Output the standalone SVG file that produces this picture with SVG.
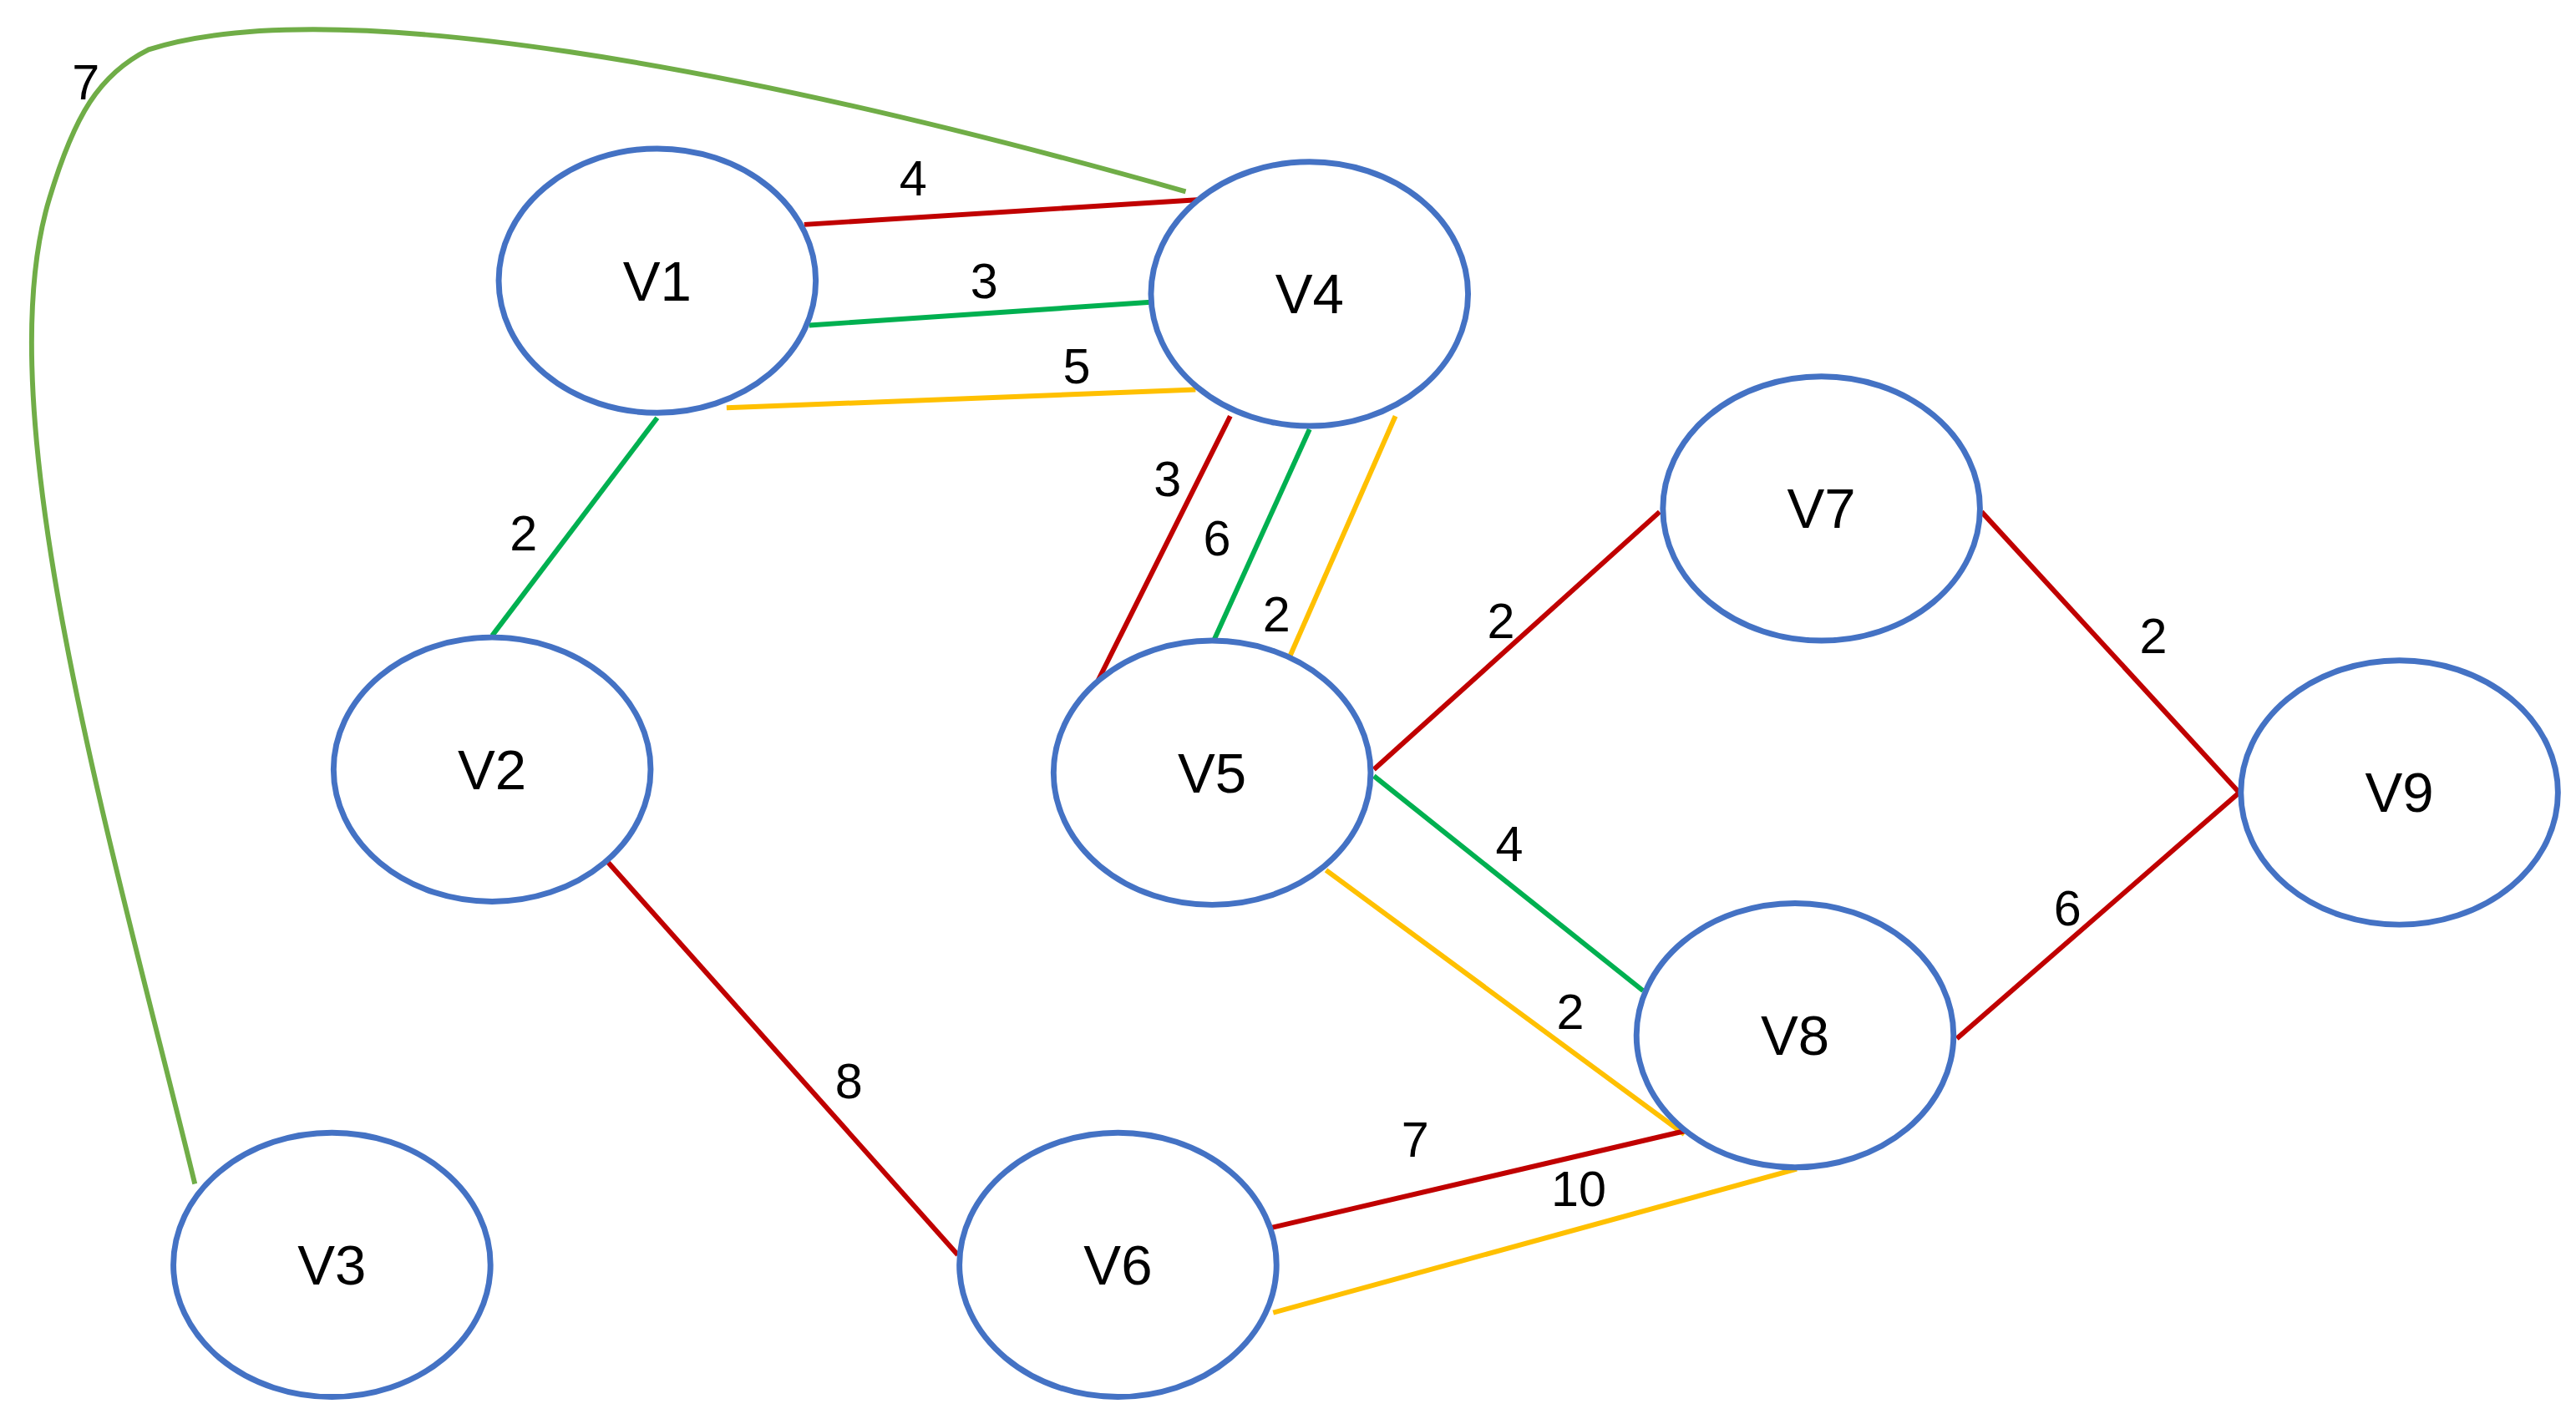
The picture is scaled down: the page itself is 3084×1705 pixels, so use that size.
<svg xmlns="http://www.w3.org/2000/svg" width="3084" height="1705" viewBox="0 0 3084 1705">
<style>
.n{fill:#fff;stroke:#4472C4;stroke-width:3.5}
.t{font-family:"Liberation Sans",Arial,sans-serif;font-size:34px;text-anchor:middle;dominant-baseline:central;fill:#000}
.l{font-family:"Liberation Sans",Arial,sans-serif;font-size:30px;text-anchor:middle;dominant-baseline:central;fill:#000}
.r{stroke:#C00000;stroke-width:3;fill:none}
.g{stroke:#00B050;stroke-width:3;fill:none}
.y{stroke:#FFC000;stroke-width:3;fill:none}
.c{stroke:#70AD47;stroke-width:3;fill:none}
</style>
<rect width="3084" height="1705" fill="#fff"/>
<g transform="scale(1.977)">
<g id="connectors">
<path class="c" d="M118,717 C70,520 -10,250 30,120 C45,70 60,45 90,30 C200,-5 450,40 718,116"/>
<line class="r" x1="487" y1="136" x2="725" y2="121"/>
<line class="g" x1="490" y1="197" x2="697" y2="183"/>
<line class="y" x1="440" y1="247" x2="724" y2="236"/>
<line class="g" x1="398" y1="253" x2="298" y2="385"/>
<line class="r" x1="745" y1="252" x2="665" y2="412"/>
<line class="g" x1="793" y1="260" x2="735" y2="388"/>
<line class="y" x1="845" y1="252" x2="780" y2="400"/>
<line class="r" x1="832" y1="466" x2="1005" y2="310"/>
<line class="r" x1="1200" y1="310" x2="1356" y2="480"/>
<line class="r" x1="1356" y1="480" x2="1185" y2="629"/>
<line class="g" x1="832" y1="470" x2="995" y2="600"/>
<line class="y" x1="803" y1="527" x2="1020" y2="687"/>
<line class="r" x1="368" y1="522" x2="580" y2="760"/>
<line class="r" x1="768" y1="744" x2="1020" y2="685"/>
<line class="y" x1="771" y1="795" x2="1088" y2="708"/>
<text class="l" x="52" y="50">7</text>
<text class="l" x="553" y="108">4</text>
<text class="l" x="596" y="170">3</text>
<text class="l" x="652" y="222">5</text>
<text class="l" x="317" y="323">2</text>
<text class="l" x="707" y="290">3</text>
<text class="l" x="737" y="326">6</text>
<text class="l" x="773" y="372">2</text>
<text class="l" x="909" y="376">2</text>
<text class="l" x="1304" y="385">2</text>
<text class="l" x="1252" y="550">6</text>
<text class="l" x="914" y="511">4</text>
<text class="l" x="951" y="613">2</text>
<text class="l" x="514" y="655">8</text>
<text class="l" x="857" y="690">7</text>
<text class="l" x="956" y="720">10</text>
</g>
<g id="V1"><ellipse class="n" cx="398" cy="170" rx="96" ry="80"/><text class="t" x="398" y="170">V1</text></g>
<g id="V4"><ellipse class="n" cx="793" cy="178" rx="96" ry="80"/><text class="t" x="793" y="178">V4</text></g>
<g id="V2"><ellipse class="n" cx="298" cy="466" rx="96" ry="80"/><text class="t" x="298" y="466">V2</text></g>
<g id="V5"><ellipse class="n" cx="734" cy="468" rx="96" ry="80"/><text class="t" x="734" y="468">V5</text></g>
<g id="V7"><ellipse class="n" cx="1103" cy="308" rx="96" ry="80"/><text class="t" x="1103" y="308">V7</text></g>
<g id="V9"><ellipse class="n" cx="1453" cy="480" rx="96" ry="80"/><text class="t" x="1453" y="480">V9</text></g>
<g id="V8"><ellipse class="n" cx="1087" cy="627" rx="96" ry="80"/><text class="t" x="1087" y="627">V8</text></g>
<g id="V3"><ellipse class="n" cx="201" cy="766" rx="96" ry="80"/><text class="t" x="201" y="766">V3</text></g>
<g id="V6"><ellipse class="n" cx="677" cy="766" rx="96" ry="80"/><text class="t" x="677" y="766">V6</text></g>
</g>
</svg>
